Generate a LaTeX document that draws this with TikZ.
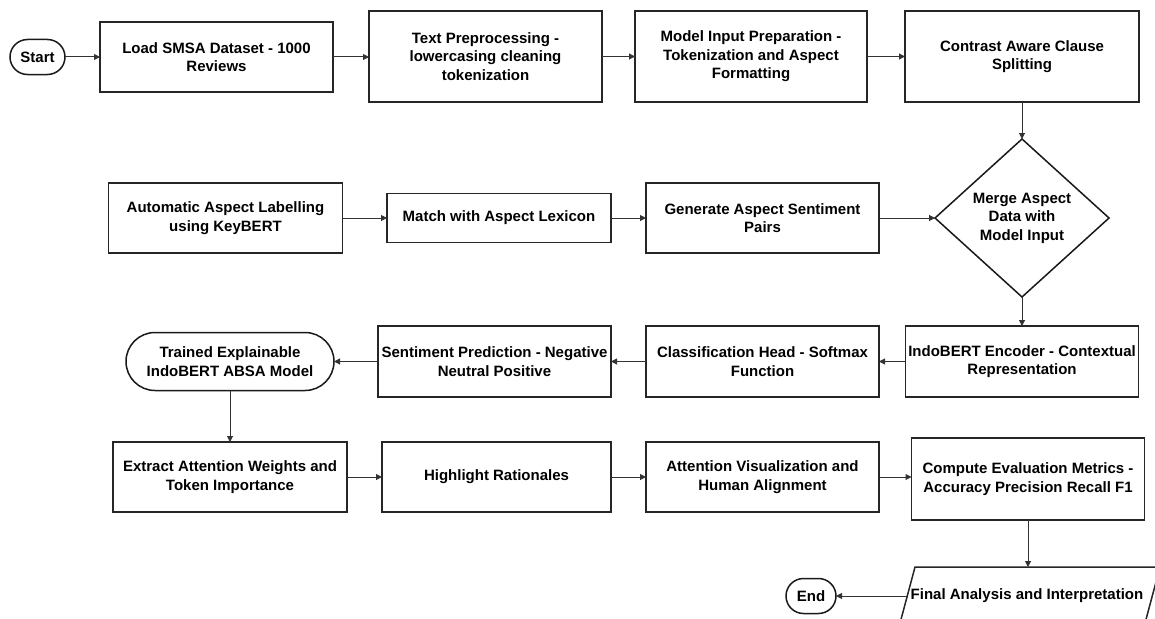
\documentclass[tikz,border=0pt]{standalone}
\usepackage{fontspec}
\setmainfont{Liberation Sans}
\usetikzlibrary{shapes.geometric,shapes.misc,arrows.meta}
\begin{document}
\begin{tikzpicture}[x=1pt,y=-1pt,
  base/.style={font=\fontsize{15}{18.5}\selectfont\bfseries, align=center, text=black, inner sep=0pt, outer sep=0pt},
  box/.style={base, rectangle, draw=black!85, line width=1.5pt},
  pill/.style={base, rounded rectangle, draw=black!90, line width=1.5pt},
  dia/.style={base, diamond, draw=black!90, line width=1.5pt},
  arr/.style={draw=black!80, line width=1pt, -{Triangle[length=6pt,width=6pt]}}
]
\clip (0,0) rectangle (1155,618);
\fill[white] (0,0) rectangle (1155,618);

% row 1
\node[pill, minimum width=55pt, minimum height=35pt] (start) at (37.5,57) {Start};
\node[box, minimum width=233pt, minimum height=70pt] (load) at (216.5,57) {Load SMSA Dataset - 1000\\Reviews};
\node[box, minimum width=233pt, minimum height=91pt] (tp) at (485.5,56.5) {Text Preprocessing -\\lowercasing cleaning\\tokenization};
\node[box, minimum width=232pt, minimum height=91pt] (mip) at (751,56.5) {Model Input Preparation -\\Tokenization and Aspect\\Formatting};
\node[box, minimum width=234pt, minimum height=91pt] (cac) at (1022,56.5) {Contrast Aware Clause\\Splitting};

% row 2
\node[dia, minimum width=174pt, minimum height=158pt] (merge) at (1022,218) {Merge Aspect\\Data with\\Model Input};
\node[box, minimum width=234pt, minimum height=70pt] (auto) at (225.5,218) {Automatic Aspect Labelling\\using KeyBERT};
\node[box, minimum width=224pt, minimum height=49pt] (match) at (499,218) {Match with Aspect Lexicon};
\node[box, minimum width=233pt, minimum height=70pt] (gen) at (762.5,218) {Generate Aspect Sentiment\\Pairs};

% row 3
\node[box, minimum width=233pt, minimum height=71pt] (enc) at (1022,361.5) {IndoBERT Encoder - Contextual\\Representation};
\node[box, minimum width=233pt, minimum height=71pt] (ch) at (762.5,361.5) {Classification Head - Softmax\\Function};
\node[box, minimum width=233pt, minimum height=71pt] (sp) at (494.5,361.5) {Sentiment Prediction - Negative\\Neutral Positive};
\node[pill, minimum width=208pt, minimum height=58pt] (trained) at (230,361.5) {Trained Explainable\\IndoBERT ABSA Model};

% row 4
\node[box, minimum width=234pt, minimum height=70pt] (extract) at (230,477) {Extract Attention Weights and\\Token Importance};
\node[box, minimum width=229pt, minimum height=70pt] (hl) at (496.5,477) {Highlight Rationales};
\node[box, minimum width=233pt, minimum height=70pt] (av) at (762.5,477) {Attention Visualization and\\Human Alignment};
\node[box, minimum width=233pt, minimum height=82pt] (comp) at (1028,479) {Compute Evaluation Metrics -\\Accuracy Precision Recall F1};

% row 5
\draw[draw=black!85, line width=1.5pt] (915,567) -- (1160,567) -- (1144.5,625) -- (899.5,625) -- cycle;
\node[base] (final) at (1027,596) {Final Analysis and Interpretation};
\coordinate (finaltop) at (1028,567);
\coordinate (finalleft) at (907,596);
\node[pill, minimum width=50pt, minimum height=35pt] (end) at (811,596) {End};

% connectors
\draw[arr] (start.east) -- (start.east -| load.west);
\draw[arr] (load.east) -- (load.east -| tp.west);
\draw[arr] (tp.east) -- (tp.east -| mip.west);
\draw[arr] (mip.east) -- (mip.east -| cac.west);
\draw[arr] (cac.south) -- (merge.north);
\draw[arr] (auto.east) -- (match.west);
\draw[arr] (match.east) -- (gen.west);
\draw[arr] (gen.east) -- (merge.west);
\draw[arr] (merge.south) -- (enc.north);
\draw[arr] (enc.west) -- (ch.east);
\draw[arr] (ch.west) -- (sp.east);
\draw[arr] (sp.west) -- (trained.east);
\draw[arr] (trained.south) -- (extract.north);
\draw[arr] (extract.east) -- (hl.west);
\draw[arr] (hl.east) -- (av.west);
\draw[arr] (av.east) -- (av.east -| comp.west);
\draw[arr] (comp.south) -- (finaltop);
\draw[arr] (finalleft) -- (end.east);
\end{tikzpicture}
\end{document}
